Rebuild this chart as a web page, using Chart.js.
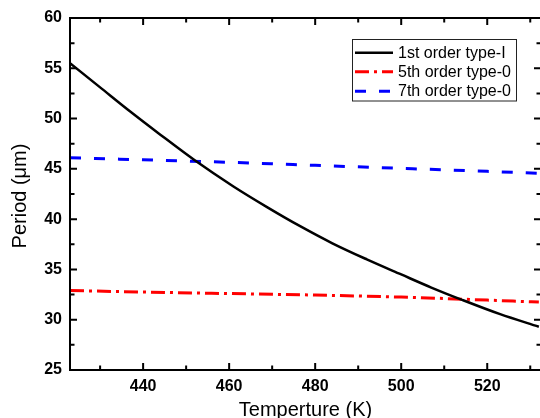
<!DOCTYPE html>
<html>
<head>
<meta charset="utf-8">
<script src="https://cdn.jsdelivr.net/npm/chart.js@4/dist/chart.umd.min.js"></script>
<style>
  html, body { margin: 0; padding: 0; background: #fff; overflow: hidden; }
  #wrap { width: 545px; height: 418px; }
</style>
</head>
<body>
<div id="wrap"><canvas id="c" width="545" height="418"></canvas></div>
<script>
// ---- data ----
const seriesNames = ["1st order type-I", "5th order type-0", "7th order type-0"];
const tempsTypeI = [423, 430, 437, 444, 452, 461, 469, 476.5, 484, 492, 500, 507, 514, 523, 532];
const periodTypeI = [55.5, 53.1, 50.7, 48.4, 45.85, 43.25, 41.15, 39.3, 37.6, 36.0, 34.5, 33.2, 32.0, 30.55, 29.3];
const tempsType0 = [423, 440, 460, 480, 500, 520, 532];
const period5th = [32.9, 32.75, 32.6, 32.45, 32.25, 31.95, 31.75];
const period7th = [46.1, 45.9, 45.65, 45.35, 45.05, 44.75, 44.55];
const xTickValues = [440, 460, 480, 500, 520];
const yTickValues = [25, 30, 35, 40, 45, 50, 55, 60];
const xTitle = "Temperture (K)";
const yTitle = "Period (\u03bcm)";

const toPts = (xs, ys) => xs.map((x, i) => ({ x: x, y: ys[i] }));

const FONT = "'Liberation Sans', Arial, Helvetica, sans-serif";

const framePlugin = {
  id: 'frame',
  afterDatasetsDraw(chart) {
    const ctx = chart.ctx;
    const a = chart.chartArea;
    const xs = chart.scales.x, ys = chart.scales.y;
    ctx.save();
    ctx.strokeStyle = '#000';
    ctx.lineWidth = 2;
    ctx.setLineDash([]);
    ctx.beginPath();
    ctx.rect(a.left, a.top, a.right - a.left, a.bottom - a.top);
    ctx.stroke();
    // tick marks (inward on all four sides)
    const major = 7, minor = 4.5;
    ctx.lineWidth = 2;
    ctx.beginPath();
    const xMinor = [];
    for (let i = 0; i < xTickValues.length; i++) {
      const v = xTickValues[i];
      const step = (xTickValues[1] - xTickValues[0]) / 2;
      [v - step, v + step].forEach(m => { if (m > xs.min && m < xs.max && !xMinor.includes(m)) xMinor.push(m); });
    }
    xTickValues.forEach(v => {
      const px = xs.getPixelForValue(v);
      ctx.moveTo(px, a.bottom); ctx.lineTo(px, a.bottom - major);
      ctx.moveTo(px, a.top); ctx.lineTo(px, a.top + major);
    });
    xMinor.forEach(v => {
      const px = xs.getPixelForValue(v);
      ctx.moveTo(px, a.bottom); ctx.lineTo(px, a.bottom - minor);
      ctx.moveTo(px, a.top); ctx.lineTo(px, a.top + minor);
    });
    const yMinor = [];
    for (let i = 0; i < yTickValues.length - 1; i++) yMinor.push((yTickValues[i] + yTickValues[i + 1]) / 2);
    yTickValues.forEach(v => {
      const py = ys.getPixelForValue(v);
      ctx.moveTo(a.left, py); ctx.lineTo(a.left + major, py);
      ctx.moveTo(a.right, py); ctx.lineTo(a.right - major, py);
    });
    yMinor.forEach(v => {
      const py = ys.getPixelForValue(v);
      ctx.moveTo(a.left, py); ctx.lineTo(a.left + minor, py);
      ctx.moveTo(a.right, py); ctx.lineTo(a.right - minor, py);
    });
    ctx.stroke();

    // axis titles
    ctx.fillStyle = '#000';
    ctx.font = '20px ' + FONT;
    ctx.textAlign = 'center';
    ctx.textBaseline = 'alphabetic';
    ctx.fillText(xTitle, (a.left + a.right) / 2, 416);
    ctx.save();
    ctx.translate(26, 196);
    ctx.rotate(-Math.PI / 2);
    ctx.fillText(yTitle, 0, 0);
    ctx.restore();

    // legend
    const bx = 352.5, by = 39.5, bw = 164, bh = 61.5;
    ctx.fillStyle = '#fff';
    ctx.fillRect(bx, by, bw, bh);
    ctx.strokeStyle = '#222';
    ctx.lineWidth = 1;
    ctx.setLineDash([]);
    ctx.strokeRect(bx, by, bw, bh);
    const rowsY = [52.7, 71.7, 91.2];
    chart.data.datasets.forEach((ds, i) => {
      const y = rowsY[i];
      ctx.strokeStyle = ds.borderColor;
      ctx.lineWidth = ds.borderWidth;
      ctx.setLineDash(ds.borderDash || []);
      ctx.beginPath();
      ctx.moveTo(355, y); ctx.lineTo(393, y);
      ctx.stroke();
      ctx.setLineDash([]);
      ctx.fillStyle = '#000';
      ctx.font = '16px ' + FONT;
      ctx.textAlign = 'left';
      ctx.textBaseline = 'middle';
      ctx.fillText(ds.label, 398, y + 0.5);
    });
    ctx.restore();
  }
};

new Chart(document.getElementById('c'), {
  type: 'line',
  data: {
    datasets: [
      { label: seriesNames[0], data: toPts(tempsTypeI, periodTypeI), borderColor: '#000000', borderWidth: 2.5, borderDash: [], pointRadius: 0, cubicInterpolationMode: 'monotone', fill: false },
      { label: seriesNames[1], data: toPts(tempsType0, period5th), borderColor: '#ff0000', borderWidth: 3, borderDash: [14, 5, 3, 5], pointRadius: 0, cubicInterpolationMode: 'monotone', fill: false },
      { label: seriesNames[2], data: toPts(tempsType0, period7th), borderColor: '#0000ff', borderWidth: 3, borderDash: [11, 13], pointRadius: 0, cubicInterpolationMode: 'monotone', fill: false }
    ]
  },
  options: {
    responsive: false,
    animation: false,
    devicePixelRatio: 1,
    layout: { padding: { top: 18, right: 4, bottom: 0, left: 0 } },
    plugins: { legend: { display: false }, tooltip: { enabled: false } },
    scales: {
      x: {
        type: 'linear',
        min: 423, max: 532.5,
        grid: { display: false, drawTicks: false },
        border: { display: false },
        afterFit(scale) { scale.height = 48; },
        afterBuildTicks(scale) { scale.ticks = xTickValues.map(v => ({ value: v })); },
        ticks: {
          includeBounds: false,
          padding: 7,
          color: '#000',
          font: { family: FONT, size: 16, weight: 'bold' },
          maxRotation: 0
        }
      },
      y: {
        type: 'linear',
        min: 25, max: 60,
        grid: { display: false, drawTicks: false },
        border: { display: false },
        afterFit(scale) { scale.width = 70; },
        afterBuildTicks(scale) { scale.ticks = yTickValues.map(v => ({ value: v })); },
        ticks: {
          padding: 8,
          color: '#000',
          font: { family: FONT, size: 16, weight: 'bold' }
        }
      }
    }
  },
  plugins: [framePlugin]
});
</script>
</body>
</html>
